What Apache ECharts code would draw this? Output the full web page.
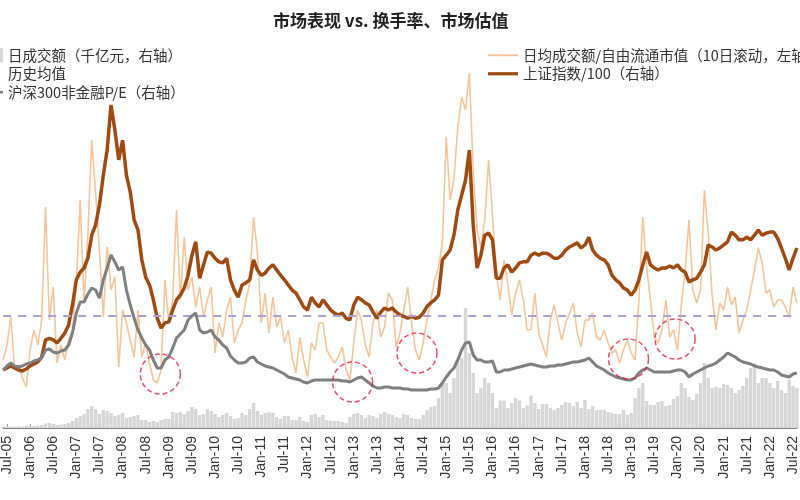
<!DOCTYPE html>
<html>
<head>
<meta charset="utf-8">
<script src="https://cdn.jsdelivr.net/npm/echarts@6/dist/echarts.min.js"></script>
<style>html,body{margin:0;padding:0;background:#fff;}#c{width:800px;height:500px;}</style>
</head>
<body>
<div id="c"></div>
<script>
// Monthly categories, Jun-2005 .. Aug-2022
const months = [];
for (let y = 2005; y <= 2022; y++) {
  for (let m = 1; m <= 12; m++) {
    if (y === 2005 && m < 6) continue;
    if (y === 2022 && m > 8) break;
    months.push(y + '-' + (m < 10 ? '0' + m : m));
  }
}
const monthNames = {'01': 'Jan', '07': 'Jul'};

// 日成交额（千亿元）
const dailyVolume = [
  0.3,0.3,0.3,0.3,0.3,0.3,0.4,
  0.4,0.4,0.5,0.6,0.9,1.0,0.8,0.6,0.7,0.8,1.0,1.4,
  2.0,2.4,2.8,3.8,4.4,3.8,2.8,3.6,3.4,3.0,2.4,2.6,
  3.0,2.0,2.2,2.4,2.6,1.6,1.6,1.2,1.4,1.2,1.6,1.8,
  1.8,3.2,3.0,3.2,2.8,3.4,4.2,3.8,2.6,2.8,3.8,3.4,
  2.8,2.2,2.6,3.0,2.4,1.8,2.0,3.0,2.6,3.8,5.0,3.4,
  2.6,3.0,3.2,3.0,2.2,1.8,2.4,2.4,1.6,1.6,2.2,1.4,
  1.2,2.6,2.8,2.2,2.6,1.6,1.4,1.4,1.4,1.2,1.0,2.2,
  2.8,3.0,2.6,2.0,2.6,2.4,2.0,2.8,3.2,2.8,2.6,2.2,
  2.0,2.8,2.6,2.0,1.8,1.8,2.6,3.6,4.2,4.4,6.0,9.0,
  9.0,7.0,10.0,13.0,14.0,24.0,15.0,11.0,7.0,8.0,10.0,9.0,
  7.0,4.0,5.5,5.5,4.0,5.0,6.0,5.5,4.0,4.5,6.5,5.0,
  3.8,4.8,4.8,4.0,3.6,4.0,4.6,5.2,5.0,4.4,5.2,4.0,
  5.6,3.8,4.4,3.6,3.6,3.6,3.2,3.0,2.8,2.8,3.6,2.6,
  3.0,6.0,8.0,9.0,5.4,4.6,4.6,5.2,5.4,4.4,4.6,5.8,
  6.4,9.0,8.0,6.2,5.6,6.8,9.0,13.0,10.0,8.0,8.2,8.0,
  8.8,8.6,8.0,7.0,7.6,8.4,10.0,12.0,13.0,9.0,10.0,10.0,
  9.0,8.0,9.4,7.6,7.0,9.6,8.4,8.0
];

// 日均成交额/自由流通市值（10日滚动，%）
const turnover = [
  1.36,1.66,2.22,1.16,1.26,1.00,0.82,
  1.56,1.96,1.66,2.16,4.42,2.16,2.82,1.30,1.66,1.36,1.76,1.96,
  2.90,4.56,2.50,3.90,5.76,4.70,3.56,2.22,3.62,2.76,3.02,1.22,
  2.36,2.10,1.76,1.42,2.36,1.42,1.70,1.30,0.96,0.90,1.16,2.96,
  2.10,2.56,4.36,2.56,3.82,2.76,3.02,2.42,2.82,2.22,2.56,2.82,
  1.50,2.10,1.82,2.36,2.62,1.70,1.96,2.10,2.56,2.90,4.22,3.50,
  2.10,2.70,1.90,2.62,2.02,2.22,1.70,1.96,1.42,1.10,1.82,1.36,
  1.02,1.70,1.56,2.10,2.10,1.56,1.42,1.30,1.42,1.62,1.16,0.96,
  1.70,2.36,2.16,1.66,1.42,2.10,2.36,1.82,2.02,2.70,2.56,1.62,
  1.90,2.36,2.82,2.10,1.56,1.36,1.70,2.16,2.56,2.96,3.22,3.70,
  5.82,4.56,4.96,6.02,6.62,6.36,7.10,5.16,3.96,3.62,4.16,5.36,
  4.26,3.06,2.56,3.36,2.86,2.26,2.70,2.96,2.56,1.96,1.96,2.70,
  1.90,1.66,1.42,2.16,2.46,2.10,1.76,2.10,2.30,2.50,1.90,1.62,
  2.16,2.16,2.30,1.82,1.76,1.96,1.70,1.50,1.56,1.30,1.56,1.76,
  1.50,1.36,2.56,4.22,3.22,2.56,1.82,1.70,1.96,2.56,1.82,1.96,
  1.56,2.46,3.16,4.16,2.76,2.50,2.76,4.76,3.90,2.66,1.96,2.50,
  2.36,2.82,2.46,2.62,1.90,2.16,2.36,2.76,3.16,3.60,3.30,2.70,
  2.76,2.42,2.56,2.56,2.42,2.22,2.82,2.50
];
const turnoverMean = 2.24;

// 上证指数/100
const shIndex = [
  8.3,8.7,9.1,8.7,8.3,8.1,8.5,
  9.1,9.5,9.9,10.8,14.2,14.5,14.2,13.6,14.5,15.5,17.1,21.0,
  25.9,27.4,28.2,30.1,34.6,36.6,40.5,46.3,51.2,60.0,55.1,49.3,
  53.1,46.3,43.0,37.6,35.6,29.8,26.4,24.9,22.0,18.4,16.5,17.5,
  17.7,20.0,22.0,22.9,24.3,26.8,30.7,33.3,26.2,28.8,31.3,31.1,
  30.1,29.4,29.2,30.1,25.9,23.9,22.5,24.9,25.3,25.9,29.8,27.8,
  26.8,27.2,28.2,28.8,27.8,26.8,25.9,24.9,23.9,23.3,22.0,20.6,
  20.0,22.5,21.4,20.6,22.0,21.0,20.0,19.4,19.0,19.4,18.4,18.1,
  21.0,22.5,22.0,21.4,21.0,19.6,18.4,19.6,20.4,20.0,20.4,19.6,
  19.0,18.8,18.4,18.8,18.4,18.6,19.4,20.7,21.4,22.0,22.9,29.8,
  30.7,31.7,34.6,39.5,42.4,45.3,51.2,36.6,28.2,30.7,34.6,35.0,
  33.7,26.2,26.2,28.2,28.8,27.4,28.2,29.2,29.4,29.4,30.7,31.1,
  30.7,31.1,31.1,30.7,30.1,30.1,30.7,31.7,32.3,32.7,33.1,32.1,
  32.7,34.2,31.7,30.7,30.1,29.8,28.8,26.8,25.9,25.3,24.3,23.9,
  22.9,23.9,25.9,28.8,31.3,28.8,28.2,27.8,28.2,28.2,28.6,28.2,
  28.8,27.8,27.4,25.5,25.9,26.2,27.4,28.8,32.7,32.3,31.7,32.1,
  32.7,33.3,35.2,34.6,33.7,33.7,34.2,33.7,34.6,35.6,34.6,35.0,
  35.2,35.2,34.0,32.1,30.1,27.8,30.1,32.1
];

// 沪深300非金融P/E
const peRatio = [
  14.5,15.5,16.25,15.5,15.25,15.5,16.0,
  16.25,16.75,17.0,17.5,19.5,19.75,19.0,18.75,19.25,19.5,20.75,23.75,
  28.75,31.5,31.5,33.5,35.0,34.5,32.5,37.0,40.0,43.25,41.5,39.5,
  40.25,34.5,30.75,27.5,24.5,22.5,20.75,19.5,17.0,15.0,15.0,17.0,
  17.75,20.0,22.5,23.5,24.5,27.0,28.0,28.75,24.5,23.75,24.0,24.5,
  22.75,22.0,20.75,20.0,18.0,17.0,16.25,16.25,16.5,17.5,17.75,16.5,
  16.0,15.5,15.25,15.0,14.5,14.0,13.5,12.75,12.5,12.25,12.0,11.5,
  11.25,11.75,12.0,12.0,12.0,12.0,12.0,12.0,12.0,11.75,11.75,11.5,
  12.0,12.5,12.75,12.0,11.25,10.5,10.0,10.0,10.25,10.25,10.0,10.0,
  10.0,9.75,9.75,9.5,9.5,9.5,9.5,9.5,9.75,9.75,10.0,11.25,
  12.75,14.0,15.0,17.0,19.5,21.25,21.5,18.25,17.0,17.0,16.5,16.5,
  16.75,14.0,14.0,14.5,14.5,14.75,15.0,15.25,15.5,15.75,16.0,15.75,
  15.5,15.25,15.25,15.5,15.5,15.75,15.75,16.0,16.25,16.5,16.5,16.75,
  17.0,17.5,16.5,15.5,15.0,14.5,13.75,13.25,12.75,12.5,12.25,12.0,
  12.0,12.5,13.75,14.5,15.0,14.5,14.0,14.0,14.0,14.0,14.0,14.25,
  14.5,14.5,14.0,12.75,13.5,14.0,14.5,15.0,15.5,15.75,16.25,17.0,
  17.75,18.75,18.25,17.75,17.0,16.5,16.25,16.0,15.5,15.25,15.0,14.75,
  14.5,14.5,14.0,13.25,13.0,12.75,13.5,13.75
];

// highlighted lows: [month position, P/E level]
const circleMarks = [[40.8, 13.5], [90.7, 11.5], [107.4, 18.75], [162.3, 17.25], [174.4, 22.25]];

const isHalfYear = (idx, val) => { const m = String(val).slice(5); return m === '01' || m === '07'; };
const cjk = '"Noto Sans CJK SC", "Noto Sans", sans-serif';
const lineIcon3 = 'path://M0,0H30V3.2H0Z';
const lineIcon2 = 'path://M0,0H30V2H0Z';

const chart = echarts.init(document.getElementById('c'), null, {renderer: 'canvas'});
chart.setOption({
  animation: false,
  backgroundColor: '#ffffff',
  title: {
    text: '市场表现 vs. 换手率、市场估值',
    left: 268, top: 7,
    textStyle: {fontSize: 17, fontWeight: 'bold', color: '#222', fontFamily: cjk}
  },
  legend: [
    {
      data: [
        {name: '日成交额（千亿元，右轴）', icon: 'rect'},
        {name: '历史均值', icon: 'rect', itemStyle: {color: 'rgba(0,0,0,0)'}},
        {name: '沪深300非金融P/E（右轴）', icon: lineIcon3}
      ],
      orient: 'vertical', left: -27, top: 43,
      itemWidth: 25, itemHeight: 14, itemGap: 4,
      textStyle: {fontSize: 14.5, color: '#333', fontFamily: cjk}
    },
    {
      data: [
        {name: '日均成交额/自由流通市值（10日滚动，左轴）', icon: lineIcon2},
        {name: '上证指数/100（右轴）', icon: lineIcon3}
      ],
      orient: 'vertical', left: 483, top: 43,
      itemWidth: 30, itemHeight: 14, itemGap: 4,
      textStyle: {fontSize: 14.5, color: '#333', fontFamily: cjk}
    }
  ],
  grid: {left: -1, right: -1, top: 28, bottom: 72, containLabel: false},
  xAxis: [
    {
      type: 'category', data: months, boundaryGap: false,
      axisLine: {lineStyle: {color: '#808080', width: 1}},
      axisTick: {show: true, inside: true, length: 4, interval: isHalfYear, lineStyle: {color: '#999'}},
      axisLabel: {
        rotate: 90, interval: isHalfYear, margin: 8,
        fontSize: 14, color: '#333', fontFamily: '"Liberation Sans", Arial, sans-serif',
        formatter: v => monthNames[v.slice(5)] + '-' + v.slice(2, 4)
      },
      splitLine: {show: false}
    },
    {type: 'value', min: 0, max: months.length - 1, show: false}
  ],
  yAxis: [
    {type: 'value', min: 0, max: 8, show: false},
    {type: 'value', min: -3, max: 75, show: false},
    {type: 'value', min: 0, max: 100, show: false},
    {type: 'value', min: 0, max: 80, show: false}
  ],
  series: [
    {
      name: '日成交额（千亿元，右轴）', type: 'bar', data: dailyVolume,
      xAxisIndex: 0, yAxisIndex: 3, barCategoryGap: '12%',
      itemStyle: {color: '#d6d6d6'}, z: 1
    },
    {
      name: '日均成交额/自由流通市值（10日滚动，左轴）', type: 'line', data: turnover,
      yAxisIndex: 0, symbol: 'none',
      lineStyle: {color: '#F6C49A', width: 1.6}, itemStyle: {color: '#F6C49A'}, z: 2
    },
    {
      name: '历史均值', type: 'line', data: [], yAxisIndex: 0, symbol: 'none',
      lineStyle: {color: '#A8A4CF', width: 2, type: [8, 7]}, itemStyle: {color: '#A8A4CF'},
      markLine: {
        silent: true, symbol: ['none', 'none'], label: {show: false},
        lineStyle: {color: '#A8A4CF', width: 2, type: [8, 7]},
        data: [{yAxis: turnoverMean}]
      },
      z: 3
    },
    {
      name: '上证指数/100（右轴）', type: 'line', data: shIndex,
      yAxisIndex: 1, symbol: 'none',
      lineStyle: {color: '#9E4A12', width: 3.5}, itemStyle: {color: '#9E4A12'}, z: 4
    },
    {
      name: '沪深300非金融P/E（右轴）', type: 'line', data: peRatio,
      yAxisIndex: 2, symbol: 'none',
      lineStyle: {color: '#7F7F7F', width: 3}, itemStyle: {color: '#7F7F7F'}, z: 5
    },
    {
      name: 'lows', type: 'scatter', data: circleMarks,
      xAxisIndex: 1, yAxisIndex: 2, symbol: 'circle', symbolSize: 40, silent: true,
      itemStyle: {color: 'rgba(0,0,0,0)', borderColor: '#E0223F', borderWidth: 1.5, borderType: [5, 3]},
      z: 6
    }
  ]
});
</script>
</body>
</html>
